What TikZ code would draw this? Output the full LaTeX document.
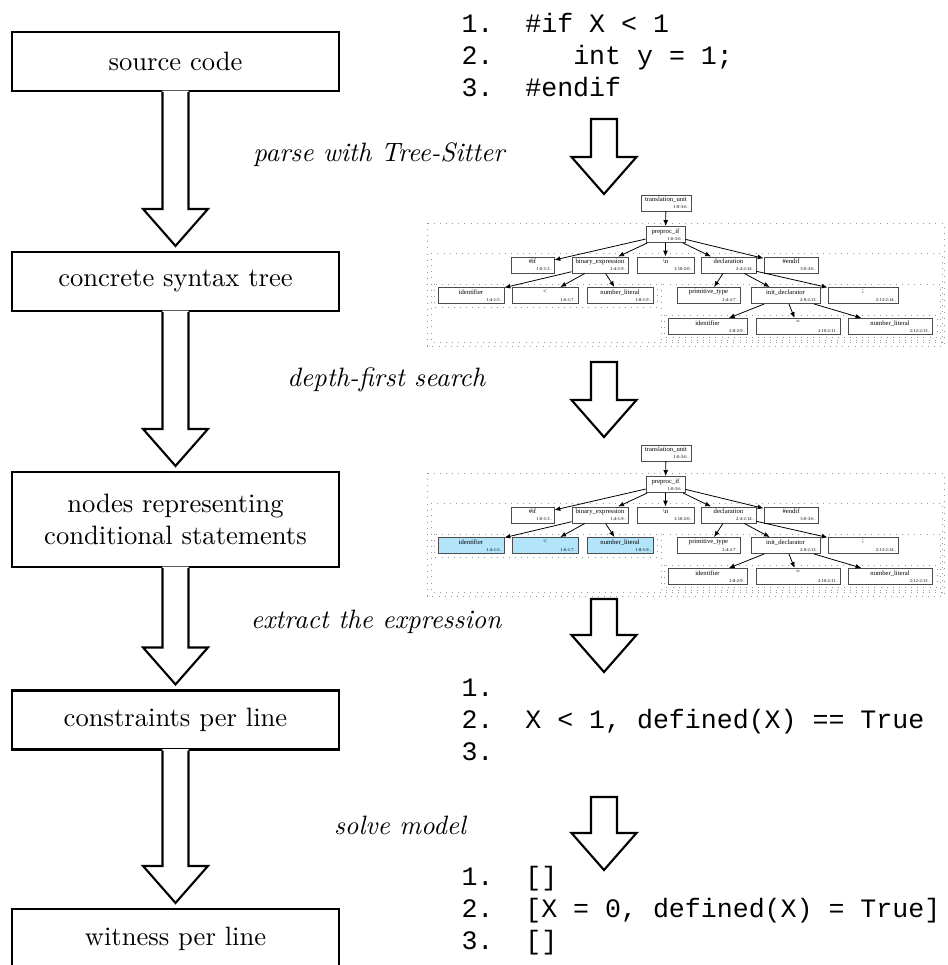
\documentclass[tikz,border=0pt]{standalone}
\usepackage{fontspec}
\setmonofont{Liberation Mono}
\newfontfamily\gvfont{Liberation Serif}
\usetikzlibrary{arrows.meta,calc}

\definecolor{hlblue}{RGB}{178,228,250}
\newcommand\pxu{0.376pt}

% hollow block arrow from #1 down to the tip #2, #3 closes it or not
\newcommand\bigarrow[3]{%
  \fill[white] let \p1=#1, \p2=#2 in (\x1-4.9pt,\y1+.5pt) -- (\x1-4.9pt,\y2+13.9pt) -- (\x1-12.2pt,\y2+13.9pt) -- (\x1,\y2) -- (\x1+12.2pt,\y2+13.9pt) -- (\x1+4.9pt,\y2+13.9pt) -- (\x1+4.9pt,\y1+.5pt) -- cycle;
  \draw[thick] let \p1=#1, \p2=#2 in (\x1-4.9pt,\y1) -- (\x1-4.9pt,\y2+13.9pt) -- (\x1-12.2pt,\y2+13.9pt) -- (\x1,\y2) -- (\x1+12.2pt,\y2+13.9pt) -- (\x1+4.9pt,\y2+13.9pt) -- (\x1+4.9pt,\y1) #3;
}

% one box of the syntax tree: [fill]{name}{x,y}{width}{type}{span}
\newcommand\cstnode[6][white]{%
  \node[cst, fill=#1, minimum width=#4*\pxu, label={[cstmain]north:{#5}}, label={[cstspan]south east:{#6}}] (#2) at (#3) {};
}

\tikzset{
  stage/.style={draw, thick, minimum width=327*\pxu, minimum height=59*\pxu, align=center, inner sep=0pt},
  code/.style={font=\ttfamily, align=left, anchor=west, inner sep=0pt},
  stepnote/.style={font=\itshape},
  cst/.style={draw=black!70, line width=.35pt, minimum height=16*\pxu, inner sep=0pt},
  cstmain/.style={anchor=north, inner sep=.7pt, font=\gvfont\fontsize{2.5}{3}\selectfont},
  cstspan/.style={anchor=south east, inner sep=.8pt, font=\gvfont\fontsize{1.7}{2}\selectfont},
  cstedge/.style={-{Latex[length=2.2pt,width=1.8pt]}, line width=.3pt},
  cluster/.style={draw=black!40, dotted, line width=.3pt},
}

\begin{document}
\begin{tikzpicture}[x=0.376pt, y=-0.376pt]
	\useasboundingbox (0,0) rectangle (948,965);

	% pipeline on the left
	\node[stage] (src) at (175.5,61.5) {source code};
	\node[stage] (cst) at (175.5,281.5) {concrete syntax tree};
	\node[stage, minimum height=95*\pxu] (cond) at (175.5,519.5) {nodes representing\\conditional statements};
	\node[stage] (cons) at (175.5,720) {constraints per line};
	\node[stage] (wit) at (175.5,938.5) {witness per line};

	\foreach \a/\b in {src/cst, cst/cond, cond/cons, cons/wit}
		\bigarrow{(\a.south)}{($(\b.north)+(0,-5)$)}{};

	% source lines
	\node[code] (lines) at (461,55) {1.\ \ \#if X < 1\\2.\ \ \ \ \ int y = 1;\\3.\ \ \#endif};

	% parse step
	\coordinate (p1) at (604,119);
	\coordinate (p1t) at (604,194);
	\bigarrow{(p1)}{(p1t)}{-- cycle};
	\node[stepnote] (parse) at (379,155) {parse with Tree-Sitter};

	% the tree, once plain and once with the condition marked
	\foreach \t/\dy/\hl in {a/0/white, b/250/hlblue} {
		\begin{scope}[shift={(0,\dy)}]
			\draw[cluster] (427,223) rectangle (944,346);
			\draw[cluster] (431,253) rectangle (942,342);
			\draw[cluster] (434,284) rectangle (657,307);
			\draw[cluster] (661,284) rectangle (940,340);
			\draw[cluster] (664,315) rectangle (937,337);

			\cstnode{\t-tu}{666,203}{50}{translation\_unit}{1:0-3:6 .}
			\cstnode{\t-pif}{665.5,234.5}{39}{preproc\_if}{1:0-3:6 .}

			\cstnode{\t-if}{532.5,265}{43}{\#if}{1:0-1:3 .}
			\cstnode{\t-bin}{600,265}{56}{binary\_expression}{1:4-1:9 .}
			\cstnode{\t-nl}{665.5,265}{57}{\textbackslash n}{1:10-2:0 .}
			\cstnode{\t-decl}{728.5,265}{55}{declaration}{2:4-2:14 .}
			\cstnode{\t-endif}{791,265}{54}{\#endif}{3:0-3:6 .}

			\cstnode[\hl]{\t-id}{471,295.5}{66}{identifier}{1:4-1:5 .}
			\cstnode[\hl]{\t-lt}{545,295.5}{66}{<}{1:6-1:7 .}
			\cstnode[\hl]{\t-num}{620,295.5}{66}{number\_literal}{1:8-1:9 .}
			\cstnode{\t-prim}{708.5,295.5}{63}{primitive\_type}{2:4-2:7 .}
			\cstnode{\t-init}{785.5,295.5}{69}{init\_declarator}{2:8-2:13 .}
			\cstnode{\t-semi}{863,295.5}{70}{;}{2:13-2:14 .}

			\cstnode{\t-vid}{707.5,326.5}{79}{identifier}{2:8-2:9 .}
			\cstnode{\t-eq}{798,326.5}{84}{=}{2:10-2:11 .}
			\cstnode{\t-val}{890,326.5}{84}{number\_literal}{2:12-2:13 .}

			\draw[cstedge] (\t-tu) -- (\t-pif);
			\foreach \c in {if,bin,nl,decl,endif}
				\draw[cstedge] (\t-pif) -- (\t-\c);
			\foreach \c in {id,lt,num}
				\draw[cstedge] (\t-bin) -- (\t-\c);
			\foreach \c in {prim,init,semi}
				\draw[cstedge] (\t-decl) -- (\t-\c);
			\foreach \c in {vid,eq,val}
				\draw[cstedge] (\t-init) -- (\t-\c);
		\end{scope}
	}

	% search step
	\coordinate (p2) at (604,362);
	\coordinate (p2t) at (604,437);
	\bigarrow{(p2)}{(p2t)}{-- cycle};
	\node[stepnote, anchor=west] (dfs) at (278,380) {depth-first search};

	% extract step
	\coordinate (p3) at (604,599);
	\coordinate (p3t) at (604,672);
	\bigarrow{(p3)}{(p3t)}{-- cycle};
	\node[stepnote] (extract) at (376,622) {extract the expression};
	\node[code] (expr) at (461,720) {1.\\2.\ \ X < 1, defined(X) == True\\3.};

	% solve step
	\coordinate (p4) at (604,797);
	\coordinate (p4t) at (604,870);
	\bigarrow{(p4)}{(p4t)}{-- cycle};
	\node[stepnote] (solve) at (400,825) {solve model};
	\node[code] (model) at (461,911) {1.\ \ []\\2.\ \ [X = 0, defined(X) = True]\\3.\ \ []};
\end{tikzpicture}
\end{document}
